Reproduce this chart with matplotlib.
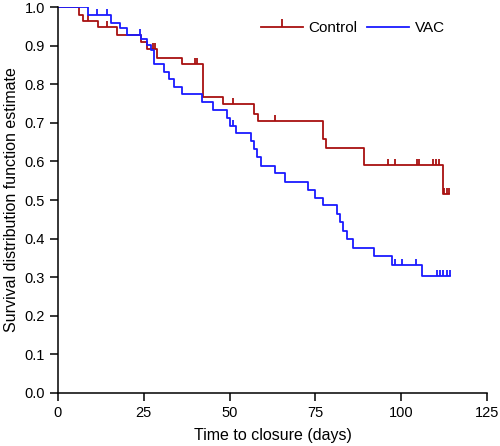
import matplotlib
matplotlib.use("Agg")
import matplotlib.pyplot as plt
from matplotlib.path import Path
import numpy as np

plt.rcParams['font.family'] = ['Liberation Sans', 'DejaVu Sans']

# Kaplan-Meier steps (day, survival after the event)
control_times = [0, 6.1, 7.2, 11.7, 17.1, 24.1, 25.8, 28.8, 36.2, 42.2, 48.2,
                 57.1, 58.2, 77.1, 78.0, 89.2, 112.1, 114.0]
control_surv = [1.0, 0.979, 0.964, 0.948, 0.928, 0.910, 0.891, 0.869, 0.852,
                0.768, 0.749, 0.724, 0.704, 0.658, 0.636, 0.591, 0.516, 0.516]
control_censor = [8.8, 14.2, 27.8, 28.3, 39.9, 40.6, 51.1, 63.2, 96.2, 98.2,
                  104.5, 105.2, 109.4, 110.2, 111.1, 112.6, 113.3, 114.0]

vac_times = [0, 8.8, 15.5, 18.1, 20.0, 24.1, 25.8, 27.1, 28.1, 31.0, 32.4,
             33.9, 36.0, 42.1, 45.1, 49.1, 50.1, 51.9, 56.2, 57.1, 58.1, 59.2,
             63.2, 66.1, 72.9, 74.9, 77.1, 81.2, 82.2, 83.1, 84.1, 86.0, 92.1,
             97.2, 106.2, 114.2]
vac_surv = [1.0, 0.979, 0.960, 0.946, 0.928, 0.917, 0.903, 0.888, 0.853,
            0.833, 0.813, 0.793, 0.774, 0.753, 0.733, 0.712, 0.692, 0.673,
            0.654, 0.632, 0.611, 0.589, 0.569, 0.548, 0.527, 0.506, 0.486,
            0.464, 0.443, 0.421, 0.400, 0.375, 0.354, 0.331, 0.303, 0.303]
vac_censor = [6.1, 11.3, 14.2, 24.0, 50.9, 98.2, 100.1, 104.2, 110.3, 111.3,
              112.3, 113.3, 114.2]

red = "#a81010"
blue = "#1a1aff"
up_tick = Path([(0, 0), (0, 1)])


def level_at(t, times, surv):
    idx = np.searchsorted(times, t, side="right") - 1
    return np.array(surv)[idx]


def km_curve(axe, times, surv, censor, color, label, tick_legend):
    axe.step(times, surv, where="post", color=color, lw=1.3)
    lv = level_at(np.array(censor), np.array(times), surv)
    axe.vlines(censor, lv, lv + 0.016, color=color, lw=1.3)
    if tick_legend:
        handle = plt.Line2D([], [], color=color, lw=1.3, marker=up_tick,
                            markersize=12, markeredgewidth=1.3, markevery=[1])
    else:
        handle = plt.Line2D([], [], color=color, lw=1.3)
    return handle, label


fig = plt.figure(figsize=(5, 4.46), dpi=100)
ax = fig.add_axes([0.116, 0.119, 0.858, 0.865])

h1 = km_curve(ax, control_times, control_surv, control_censor, red, "Control", True)
h2 = km_curve(ax, vac_times, vac_surv, vac_censor, blue, "VAC", False)

ax.set_xlim(0, 125)
ax.set_ylim(0, 1.0)
ax.set_xticks([0, 25, 50, 75, 100, 125])
ax.set_yticks(np.arange(0, 1.01, 0.1))
ax.set_yticklabels(["%.1f" % v for v in np.arange(0, 1.01, 0.1)])
ax.spines["top"].set_visible(False)
ax.spines["right"].set_visible(False)
for s in ("left", "bottom"):
    ax.spines[s].set_linewidth(1.1)
ax.tick_params(direction="out", length=6, width=1.1, labelsize=10.5)
ax.set_xlabel("Time to closure (days)", fontsize=11.5, labelpad=6)
ax.set_ylabel("Survival distribution function estimate", fontsize=11.5, labelpad=4)

ax.legend([h1[0], h2[0]], [h1[1], h2[1]], ncol=2, frameon=False,
          loc="upper left", bbox_to_anchor=(0.44, 1.0), fontsize=11,
          handlelength=2.75, columnspacing=0.6, handletextpad=0.4)

fig.savefig("out.png", dpi=100)
